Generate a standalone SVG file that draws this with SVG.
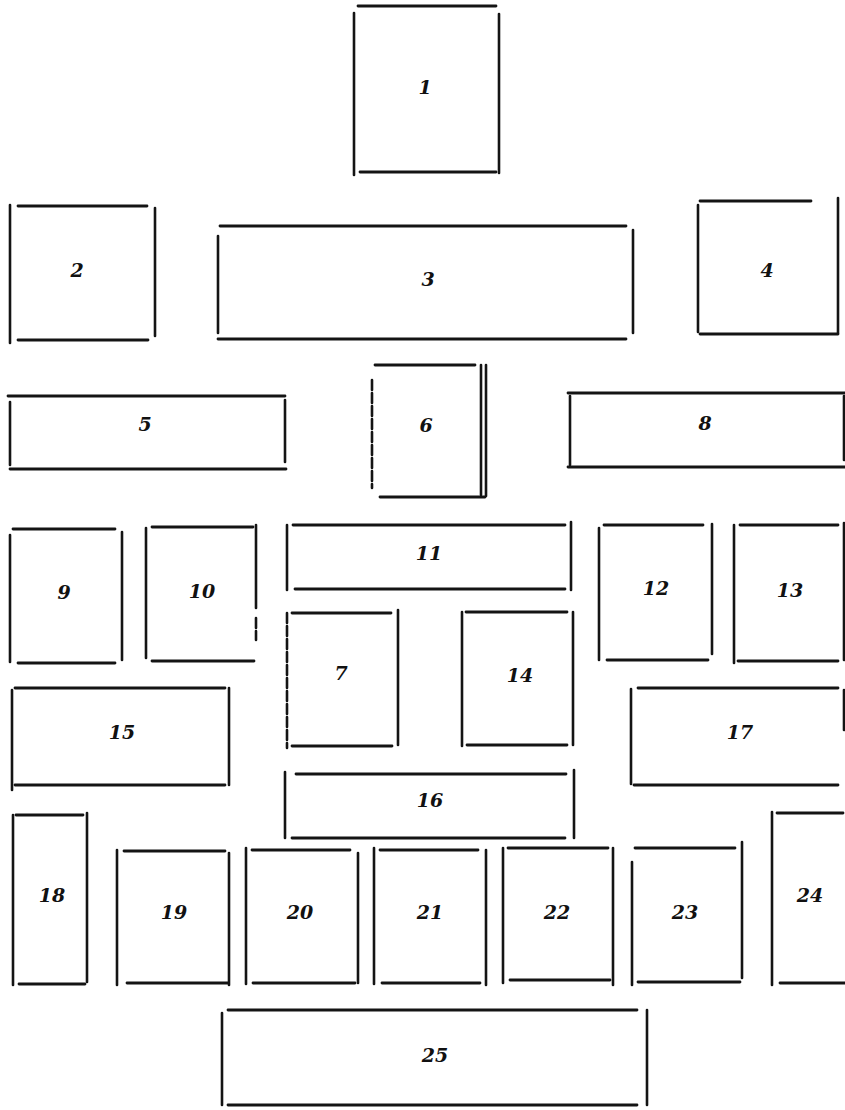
<svg xmlns="http://www.w3.org/2000/svg" width="845" height="1110" viewBox="0 0 845 1110">
<style>
  line { stroke: #141414; stroke-width: 2.6; stroke-linecap: round; }
  .h { stroke-width: 2.8; }
  .d { stroke-dasharray: 10 3; }
  text { font-family: "DejaVu Serif", "Liberation Serif", serif; font-weight: bold; font-style: italic; font-size: 19px; fill: #111; text-anchor: middle; dominant-baseline: central; }
</style>
<rect width="845" height="1110" fill="#ffffff"/>
<g id="node1"><line x1="354" y1="13" x2="354" y2="175"/><line class="h" x1="358" y1="6" x2="496" y2="6"/><line x1="499" y1="14" x2="499" y2="173"/><line class="h" x1="360" y1="172" x2="496" y2="172"/><text x="425" y="87">1</text></g>
<g id="node2"><line x1="10" y1="205" x2="10" y2="343"/><line class="h" x1="18" y1="206" x2="147" y2="206"/><line x1="155" y1="208" x2="155" y2="336"/><line class="h" x1="18" y1="340" x2="148" y2="340"/><text x="77" y="270">2</text></g>
<g id="node3"><line x1="218" y1="236" x2="218" y2="333"/><line class="h" x1="220" y1="226" x2="626" y2="226"/><line x1="633" y1="230" x2="633" y2="333"/><line class="h" x1="218" y1="339" x2="626" y2="339"/><text x="428" y="279">3</text></g>
<g id="node4"><line x1="698" y1="205" x2="698" y2="332"/><line class="h" x1="700" y1="201" x2="811" y2="201"/><line x1="838" y1="198" x2="838" y2="333"/><line class="h" x1="700" y1="334" x2="838" y2="334"/><text x="767" y="270">4</text></g>
<g id="node5"><line x1="10" y1="402" x2="10" y2="465"/><line class="h" x1="8" y1="396" x2="285" y2="396"/><line x1="285" y1="400" x2="285" y2="462"/><line class="h" x1="10" y1="469" x2="286" y2="469"/><text x="145" y="424">5</text></g>
<g id="node6"><line class="d" x1="372" y1="380" x2="372" y2="488"/><line class="h" x1="375" y1="365" x2="475" y2="365"/><line x1="481" y1="365" x2="481" y2="495"/><line stroke-width="1.6" x1="486" y1="365" x2="486" y2="496"/><line class="h" x1="380" y1="497" x2="485" y2="497"/><text x="426" y="425">6</text></g>
<g id="node8"><line x1="570" y1="396" x2="570" y2="465"/><line class="h" x1="568" y1="393" x2="845" y2="393"/><line x1="844" y1="396" x2="844" y2="460"/><line class="h" x1="568" y1="467" x2="845" y2="467"/><text x="705" y="423">8</text></g>
<g id="node9"><line x1="10" y1="535" x2="10" y2="662"/><line class="h" x1="13" y1="529" x2="115" y2="529"/><line x1="122" y1="532" x2="122" y2="660"/><line class="h" x1="18" y1="663" x2="115" y2="663"/><text x="64" y="592">9</text></g>
<g id="node10"><line x1="146" y1="528" x2="146" y2="658"/><line class="h" x1="152" y1="527" x2="253" y2="527"/><line x1="256" y1="525" x2="256" y2="608"/><line class="d" x1="256" y1="618" x2="256" y2="640"/><line class="h" x1="152" y1="661" x2="254" y2="661"/><text x="202" y="591">10</text></g>
<g id="node11"><line x1="287" y1="525" x2="287" y2="590"/><line class="h" x1="293" y1="525" x2="565" y2="525"/><line x1="571" y1="522" x2="571" y2="590"/><line class="h" x1="295" y1="589" x2="565" y2="589"/><text x="429" y="553">11</text></g>
<g id="node12"><line x1="599" y1="528" x2="599" y2="660"/><line class="h" x1="604" y1="525" x2="703" y2="525"/><line x1="712" y1="524" x2="712" y2="654"/><line class="h" x1="607" y1="660" x2="708" y2="660"/><text x="656" y="588">12</text></g>
<g id="node13"><line x1="734" y1="525" x2="734" y2="663"/><line class="h" x1="740" y1="525" x2="838" y2="525"/><line x1="844" y1="523" x2="844" y2="660"/><line class="h" x1="738" y1="661" x2="838" y2="661"/><text x="790" y="590">13</text></g>
<g id="node7"><line class="d" x1="287" y1="613" x2="287" y2="748"/><line class="h" x1="292" y1="613" x2="391" y2="613"/><line x1="398" y1="610" x2="398" y2="745"/><line class="h" x1="292" y1="746" x2="392" y2="746"/><text x="341" y="673">7</text></g>
<g id="node14"><line x1="462" y1="612" x2="462" y2="746"/><line class="h" x1="466" y1="612" x2="567" y2="612"/><line x1="573" y1="612" x2="573" y2="745"/><line class="h" x1="467" y1="745" x2="567" y2="745"/><text x="520" y="675">14</text></g>
<g id="node15"><line x1="12" y1="690" x2="12" y2="790"/><line class="h" x1="15" y1="688" x2="225" y2="688"/><line x1="229" y1="688" x2="229" y2="785"/><line class="h" x1="15" y1="785" x2="225" y2="785"/><text x="122" y="732">15</text></g>
<g id="node17"><line x1="631" y1="689" x2="631" y2="784"/><line class="h" x1="638" y1="688" x2="838" y2="688"/><line stroke-width="1.4" x1="844" y1="690" x2="844" y2="730"/><line class="h" x1="634" y1="785" x2="838" y2="785"/><text x="740" y="732">17</text></g>
<g id="node16"><line x1="285" y1="772" x2="285" y2="838"/><line class="h" x1="296" y1="774" x2="566" y2="774"/><line x1="574" y1="770" x2="574" y2="838"/><line class="h" x1="292" y1="838" x2="565" y2="838"/><text x="430" y="800">16</text></g>
<g id="node18"><line x1="13" y1="815" x2="13" y2="985"/><line class="h" x1="16" y1="815" x2="83" y2="815"/><line x1="87" y1="813" x2="87" y2="982"/><line class="h" x1="19" y1="984" x2="85" y2="984"/><text x="52" y="895">18</text></g>
<g id="node19"><line x1="117" y1="850" x2="117" y2="985"/><line class="h" x1="124" y1="851" x2="225" y2="851"/><line x1="229" y1="853" x2="229" y2="985"/><line class="h" x1="127" y1="983" x2="228" y2="983"/><text x="174" y="912">19</text></g>
<g id="node20"><line x1="246" y1="848" x2="246" y2="984"/><line class="h" x1="252" y1="850" x2="350" y2="850"/><line x1="358" y1="853" x2="358" y2="983"/><line class="h" x1="253" y1="983" x2="355" y2="983"/><text x="300" y="912">20</text></g>
<g id="node21"><line x1="374" y1="848" x2="374" y2="984"/><line class="h" x1="380" y1="850" x2="478" y2="850"/><line x1="486" y1="850" x2="486" y2="985"/><line class="h" x1="382" y1="983" x2="480" y2="983"/><text x="430" y="912">21</text></g>
<g id="node22"><line x1="503" y1="848" x2="503" y2="983"/><line class="h" x1="508" y1="848" x2="608" y2="848"/><line x1="613" y1="848" x2="613" y2="985"/><line class="h" x1="510" y1="980" x2="610" y2="980"/><text x="557" y="912">22</text></g>
<g id="node23"><line x1="632" y1="862" x2="632" y2="985"/><line class="h" x1="635" y1="848" x2="735" y2="848"/><line x1="742" y1="842" x2="742" y2="978"/><line class="h" x1="638" y1="982" x2="740" y2="982"/><text x="685" y="912">23</text></g>
<g id="node24"><line x1="772" y1="812" x2="772" y2="985"/><line class="h" x1="777" y1="813" x2="843" y2="813"/><line class="h" x1="780" y1="983" x2="845" y2="983"/><text x="810" y="895">24</text></g>
<g id="node25"><line x1="222" y1="1013" x2="222" y2="1105"/><line class="h" x1="228" y1="1010" x2="637" y2="1010"/><line x1="647" y1="1010" x2="647" y2="1105"/><line class="h" x1="228" y1="1105" x2="637" y2="1105"/><text x="435" y="1055">25</text></g>
<g id="connectors"></g>
</svg>
